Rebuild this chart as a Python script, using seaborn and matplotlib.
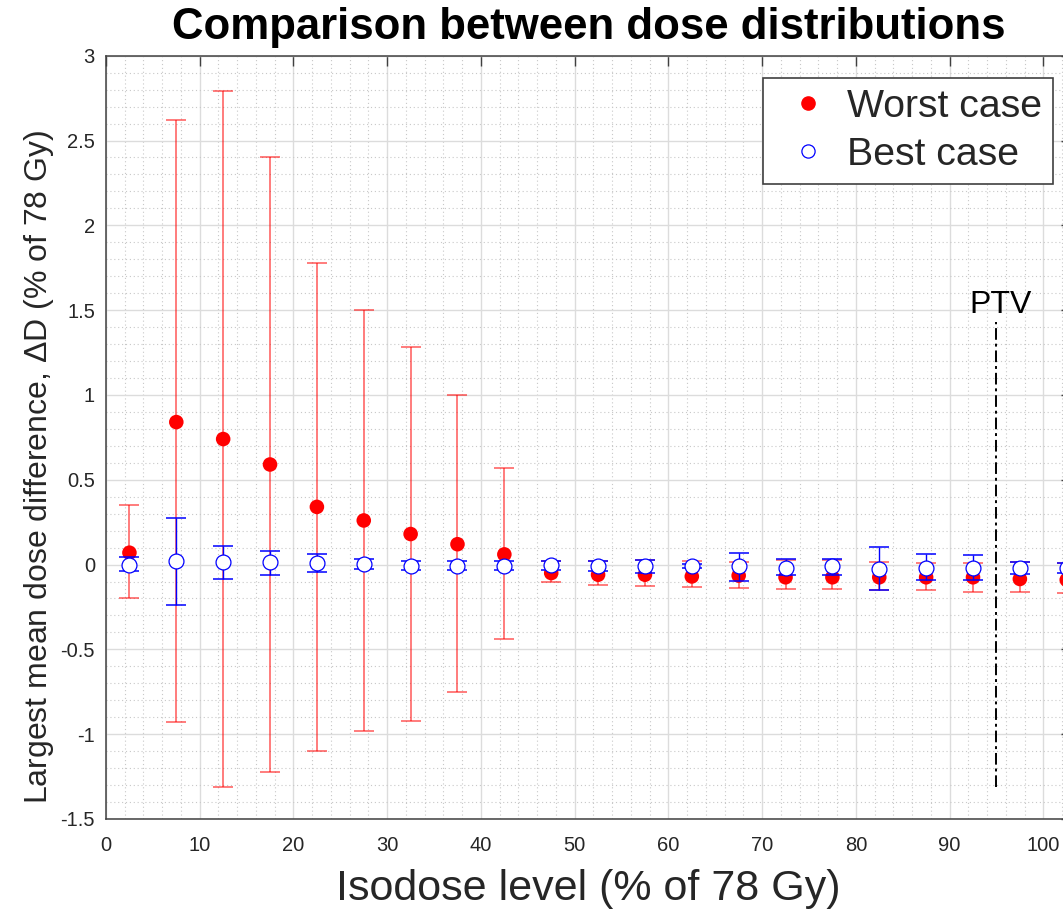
import matplotlib
matplotlib.use("Agg")
import matplotlib.pyplot as plt
import matplotlib.ticker as mticker
import numpy as np
import pandas as pd
import seaborn as sns

# isodose bins (% of 78 Gy)
isodose = [2.5, 7.5, 12.5, 17.5, 22.5, 27.5, 32.5, 37.5, 42.5, 47.5, 52.5,
           57.5, 62.5, 67.5, 72.5, 77.5, 82.5, 87.5, 92.5, 97.5, 102.5]

worst_mean = [0.07, 0.84, 0.74, 0.59, 0.34, 0.26, 0.18, 0.12, 0.06, -0.05, -0.06,
              -0.06, -0.07, -0.065, -0.075, -0.075, -0.075, -0.075, -0.075, -0.085, -0.09]
worst_lo = [-0.20, -0.93, -1.31, -1.22, -1.10, -0.98, -0.92, -0.75, -0.44, -0.10, -0.12,
            -0.125, -0.135, -0.14, -0.145, -0.145, -0.15, -0.15, -0.16, -0.16, -0.17]
worst_hi = [0.35, 2.62, 2.79, 2.40, 1.78, 1.50, 1.28, 1.00, 0.57, 0.02, 0.02,
            0.025, 0.02, 0.015, 0.025, 0.025, 0.015, 0.01, 0.01, 0.015, 0.01]

best_mean = [0.0, 0.02, 0.014, 0.014, 0.01, 0.006, -0.006, -0.006, -0.006, -0.005, -0.01,
             -0.01, -0.006, -0.01, -0.02, -0.01, -0.025, -0.02, -0.02, -0.02, -0.02]
best_lo = [-0.035, -0.237, -0.085, -0.059, -0.045, -0.026, -0.034, -0.034, -0.034, -0.03, -0.04,
           -0.05, -0.02, -0.095, -0.06, -0.063, -0.15, -0.09, -0.09, -0.055, -0.05]
best_hi = [0.043, 0.276, 0.11, 0.079, 0.063, 0.034, 0.02, 0.02, 0.02, 0.02, 0.02,
           0.025, 0.005, 0.067, 0.03, 0.033, 0.106, 0.06, 0.055, 0.015, 0.01]

ptv_x = 95
ptv_span = [-1.31, 1.43]

W, H = 1063, 910
sns.set_theme(style="white")
plt.rcParams["font.family"] = ["Liberation Sans", "DejaVu Sans"]
plt.rcParams["mathtext.fontset"] = "custom"
plt.rcParams["mathtext.rm"] = "Liberation Sans"
plt.rcParams["mathtext.it"] = "Liberation Sans"

fig = plt.figure(figsize=(W / 100, H / 100), dpi=100)
fig.patch.set_facecolor("white")
xmax = 103
ax = fig.add_axes([106 / W, 1 - 819 / H, xmax * 9.373 / W, (819 - 55.7) / H])
ax.set_facecolor("white")

x = np.array(isodose)
wm, wl, wh = np.array(worst_mean), np.array(worst_lo), np.array(worst_hi)
bm, bl, bh = np.array(best_mean), np.array(best_lo), np.array(best_hi)

ax.errorbar(x, wm, yerr=[wm - wl, wh - wm], fmt="none", ecolor=(1, 0, 0, 0.65),
            elinewidth=1.1, capsize=7, capthick=1.1, zorder=2)
sns.scatterplot(x=x, y=wm, color="red", s=110, edgecolor="none", ax=ax, zorder=3,
                legend=False)
ax.errorbar(x, bm, yerr=[bm - bl, bh - bm], fmt="none", ecolor="blue",
            elinewidth=1.0, capsize=7, capthick=1.1, zorder=4)
sns.scatterplot(x=x, y=bm, color="white", edgecolor="blue", linewidth=0.9, s=115,
                ax=ax, zorder=5, legend=False)

ax.plot([ptv_x, ptv_x], ptv_span, color="black", linestyle=(0, (6, 2, 1.5, 2)), lw=1.4, zorder=6)
ax.text(95.4, 1.53, "PTV", fontsize=23, ha="center", va="center", color="black")

ax.set_xlim(0, xmax)
ax.set_ylim(-1.5, 3)
ax.xaxis.set_major_locator(mticker.MultipleLocator(10))
ax.xaxis.set_minor_locator(mticker.MultipleLocator(2))
ax.yaxis.set_major_locator(mticker.MultipleLocator(0.5))
ax.yaxis.set_minor_locator(mticker.MultipleLocator(0.1))
ax.yaxis.set_major_formatter(mticker.FuncFormatter(lambda v, p: f"{v:g}"))

axcol = "#404040"
ax.grid(True, which="major", color="#dcdcdc", lw=1.0, linestyle="-")
ax.grid(True, which="minor", color="#c8c8c8", lw=0.8, linestyle=(0, (1, 2.5)))
ax.set_axisbelow(True)
ax.tick_params(which="major", direction="in", length=7, width=1.0, color=axcol,
               top=True, right=True, labelsize=14.5, labelcolor="#262626", pad=8)
ax.tick_params(axis="x", which="major", pad=12)
ax.tick_params(which="minor", length=0)
for s in ax.spines.values():
    s.set_color(axcol)
    s.set_linewidth(1.1)

ax.set_xlabel("Isodose level (% of 78 Gy)", fontsize=31, color="#262626", labelpad=10)
ax.set_ylabel(r"Largest mean dose difference, $\Delta$D (% of 78 Gy)", fontsize=23,
              color="#262626")
ax.yaxis.set_label_coords(-0.052, 0.461)
fig.text(589 / W, 1 - 27 / H, "Comparison between dose distributions", fontsize=31.5,
         fontweight="bold", ha="center", va="center", color="black")

h1 = plt.Line2D([], [], marker="o", color="red", linestyle="none", markersize=9.5)
h2 = plt.Line2D([], [], marker="o", markerfacecolor="white", markeredgecolor="blue",
                linestyle="none", markersize=9.5, markeredgewidth=0.9)
leg = ax.legend([h1, h2], ["Worst case", "Best case"], loc="upper left",
                bbox_to_anchor=(763 / W, 1 - 78 / H), bbox_transform=fig.transFigure,
                fontsize=28.3, frameon=True, fancybox=False, framealpha=1,
                edgecolor="#404040", borderpad=0.28, labelspacing=0.3,
                handletextpad=0.13, handlelength=1.73, borderaxespad=0)
leg.get_frame().set_linewidth(1.2)

fig.savefig("out.png", dpi=100, facecolor="white")
